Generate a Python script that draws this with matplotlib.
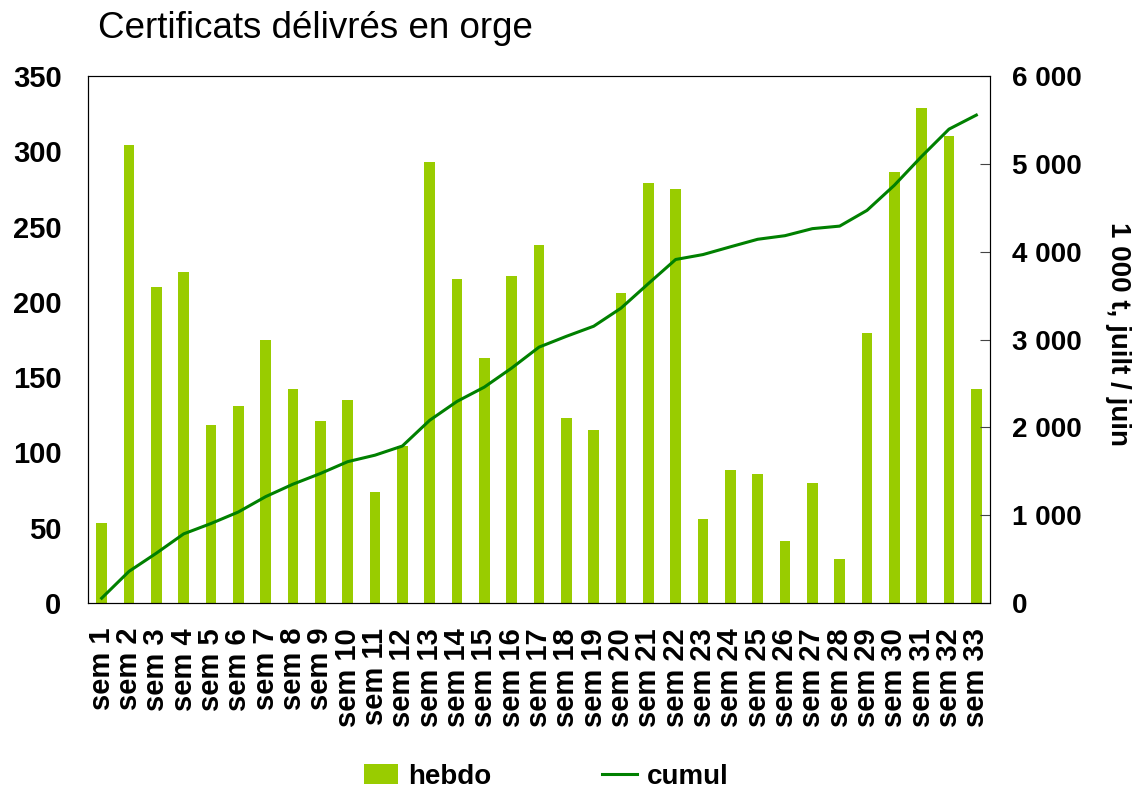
import matplotlib.pyplot as plt

plt.rcParams['font.family'] = ['Liberation Sans', 'DejaVu Sans']

weeks = ["sem %d" % i for i in range(1, 34)]
hebdo = [53, 304, 210, 220, 118, 131, 175, 142, 121, 135, 74, 104, 293, 215, 163,
         217, 238, 123, 115, 206, 279, 275, 56, 88, 86, 41, 80, 29, 179, 286, 329,
         310, 142]
cumul = [55, 360, 567, 787, 905, 1036, 1211, 1353, 1474, 1609, 1683, 1787, 2080,
         2295, 2458, 2675, 2913, 3036, 3151, 3357, 3636, 3911, 3967, 4055, 4141,
         4182, 4262, 4291, 4470, 4756, 5085, 5395, 5555]
left_ticks = [0, 50, 100, 150, 200, 250, 300, 350]
right_ticks = [0, 1000, 2000, 3000, 4000, 5000, 6000]
right_labels = ["0", "1 000", "2 000", "3 000", "4 000", "5 000", "6 000"]

bar_col = "#99CC00"
line_col = "#008000"

fig = plt.figure(figsize=(11.35, 7.9), dpi=100)
ax = fig.add_axes([88 / 1135, 1 - 603 / 790, 902 / 1135, 527 / 790])
x = list(range(len(weeks)))
bars = ax.bar(x, hebdo, width=0.4, color=bar_col, label="hebdo")
ax.set_xlim(-0.5, len(weeks) - 0.5)
ax.set_ylim(0, 350)
ax.set_yticks(left_ticks)
ax.set_yticklabels([str(v) for v in left_ticks], fontsize=21, fontweight="bold")
ax.tick_params(axis="y", length=0, pad=19)
ax.set_xticks(x)
ax.set_xticklabels(weeks, rotation=90, fontsize=21, fontweight="bold", va="top")
ax.tick_params(axis="x", length=0, pad=18)
for s in ax.spines.values():
    s.set_color("#555555")
ax.spines["bottom"].set_color("black")
ax.spines["left"].set_color("black")

ax2 = ax.twinx()
line, = ax2.plot(x, cumul, color=line_col, lw=2.2, label="cumul")
ax2.set_ylim(0, 6000)
ax2.set_yticks(right_ticks)
ax2.set_yticklabels(right_labels, fontsize=20, fontweight="bold")
ax2.tick_params(axis="y", direction="in", length=7, pad=16, color="#444444")
ax2.set_ylabel("1 000 t, juilt / juin", fontsize=20, fontweight="bold",
               rotation=-90, va="center")
ax2.yaxis.set_label_coords((1118 - 88) / 902, (603 - 334) / 527)

fig.text(98 / 1135, 1 - 28 / 790, "Certificats délivrés en orge", fontsize=26.5,
         va="center", ha="left")

fig.legend([bars, line], ["hebdo", "cumul"], loc="center", ncol=2,
           bbox_to_anchor=(546 / 1135, 1 - 777 / 790), frameon=False,
           prop={"size": 20, "weight": "bold"}, columnspacing=4,
           handlelength=1.25, handleheight=0.75, handletextpad=0.35,
           borderpad=0, borderaxespad=0)

fig.savefig("out.png", dpi=100)
